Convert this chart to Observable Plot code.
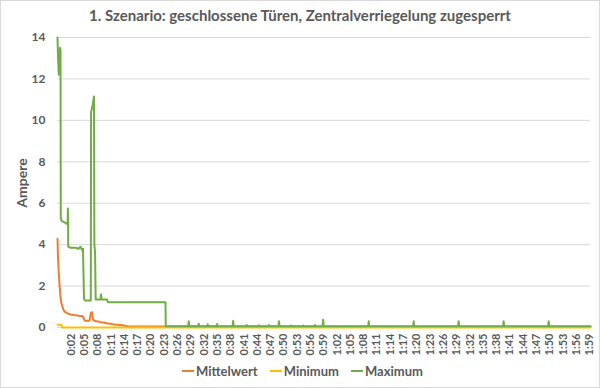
<!DOCTYPE html>
<html>
<head>
<meta charset="utf-8">
<script src="https://cdn.jsdelivr.net/npm/d3@7"></script>
<script src="https://cdn.jsdelivr.net/npm/@observablehq/plot@0.6"></script>
<style>
  html, body { margin: 0; padding: 0; background: #fff; }
  #wrap { position: relative; width: 600px; height: 388px; overflow: hidden; font-family: Lato, "Open Sans", sans-serif; color: #595959; }
  #frame { position: absolute; left: 0; top: 0; width: 598px; height: 386px; border: 1px solid #d9d9d9; pointer-events: none; }
  #title { position: absolute; left: 0; top: 6px; width: 600px; text-align: center; font-size: 15px; font-weight: bold; color: #595959; }
  #chart { position: absolute; left: 0; top: 0; }
  #ylabel { position: absolute; left: 21px; top: 183px; transform: translate(-50%, -50%) rotate(-90deg); font-size: 14px; font-weight: bold; color: #595959; white-space: nowrap; }
  #legend { position: absolute; left: 182px; top: 363px; display: flex; align-items: center; font-size: 13px; font-weight: bold; color: #595959; }
  .item { display: flex; align-items: center; margin-right: 12px; }
  .sw { width: 12px; height: 2px; margin-right: 2px; }
</style>
</head>
<body>
<div id="wrap">
  <div id="chart"></div>
  <div id="title"></div>
  <div id="ylabel"></div>
  <div id="legend"></div>
  <div id="frame"></div>
</div>
<script>
const titleText = "1. Szenario: geschlossene Türen, Zentralverriegelung zugesperrt";
const yTitle = "Ampere";
const seriesNames = ["Mittelwert", "Minimum", "Maximum"];
const seriesColors = ["#ED7D31", "#FFC000", "#70AD47"];
const yTicks = [0, 2, 4, 6, 8, 10, 12, 14];
const xTickLabels = ["0:02","0:05","0:08","0:11","0:14","0:17","0:20","0:23","0:26","0:29","0:32","0:35","0:38","0:41","0:44","0:47","0:50","0:53","0:56","0:59","1:02","1:05","1:08","1:11","1:14","1:17","1:20","1:23","1:26","1:29","1:32","1:35","1:38","1:41","1:44","1:47","1:50","1:53","1:56","1:59"];

// [seconds, ampere]
const mittelwert = [[-1.09,4.28],[-0.98,3.4],[-0.87,2.9],[-0.75,2.45],[-0.64,2.1],[-0.53,1.8],[-0.41,1.45],[-0.19,1.15],[0.04,1.0],[0.26,0.85],[0.6,0.75],[1.17,0.68],[1.84,0.63],[2.52,0.6],[3.42,0.58],[4.1,0.55],[4.55,0.55],[4.78,0.48],[5.0,0.35],[5.23,0.32],[6.13,0.33],[6.31,0.55],[6.47,0.72],[6.7,0.74],[6.87,0.45],[7.03,0.35],[7.71,0.3],[8.39,0.28],[8.61,0.25],[9.51,0.24],[9.97,0.2],[10.87,0.18],[11.55,0.15],[12.67,0.13],[13.58,0.11],[14.7,0.06],[23.3,0.05],[119.2,0.04]];
const minimum = [[-1.09,0.13],[-0.26,0.13],[0.04,0.0],[119.2,0.0]];
const maximum = [[-1.09,14.0],[-0.98,13.1],[-0.8,12.2],[-0.69,12.3],[-0.53,13.5],[-0.41,13.4],[-0.35,5.3],[-0.19,5.15],[0.26,5.1],[0.71,5.05],[1.05,5.0],[1.2,5.05],[1.26,5.75],[1.33,3.9],[1.84,3.85],[2.97,3.85],[3.65,3.8],[4.1,3.9],[4.44,3.75],[4.66,3.8],[4.89,1.4],[5.11,1.3],[6.42,1.3],[6.49,10.4],[6.81,10.7],[7.14,11.15],[7.23,4.0],[7.39,3.6],[7.53,1.35],[8.61,1.35],[8.72,1.6],[8.88,1.35],[10.08,1.35],[10.3,1.22],[23.28,1.22],[23.34,0.06],
  [28.4,0.06],[28.53,0.3],[28.66,0.06],[30.66,0.06],[30.79,0.18],[30.92,0.06],[32.7,0.06],[32.82,0.15],[32.95,0.06],[34.8,0.06],[34.94,0.17],[35.07,0.06],[38.42,0.06],[38.55,0.32],[38.68,0.06],[41.5,0.06],[41.6,0.12],[41.7,0.06],[44.2,0.06],[44.3,0.11],[44.4,0.06],[46.5,0.06],[46.6,0.12],[46.7,0.06],[48.77,0.06],[48.9,0.3],[49.03,0.06],[51.5,0.06],[51.6,0.1],[51.7,0.06],[54.3,0.06],[54.4,0.1],[54.5,0.06],[56.9,0.06],[57.0,0.12],[57.1,0.06],[58.73,0.06],[58.86,0.38],[58.99,0.06],[69.02,0.06],[69.15,0.3],[69.28,0.06],[79.17,0.06],[79.3,0.3],[79.43,0.06],[89.32,0.06],[89.45,0.3],[89.58,0.06],[99.47,0.06],[99.6,0.3],[99.73,0.06],[109.63,0.06],[109.76,0.3],[109.89,0.06],[119.2,0.06]];

const toSec = s => { const [m, ss] = s.split(":"); return (+m) * 60 + (+ss); };
const xTicks = xTickLabels.map(toSec);
const labelOf = new Map(xTicks.map((t, i) => [t, xTickLabels[i]]));

const seriesData = [mittelwert, minimum, maximum];
const rows = seriesData.flatMap((arr, i) => arr.map(([t, v]) => ({series: seriesNames[i], t, v})));

const chart = Plot.plot({
  width: 600,
  height: 362,
  marginLeft: 57,
  marginRight: 10,
  marginTop: 37,
  marginBottom: 35,
  style: {fontFamily: "Lato, 'Open Sans', sans-serif", fontWeight: "bold", color: "#595959", background: "transparent", overflow: "visible"},
  x: {domain: [-1.09, 119.2], label: null},
  y: {domain: [0, 14], label: null},
  color: {domain: seriesNames, range: seriesColors},
  marks: [
    Plot.ruleY(yTicks, {stroke: "#d9d9d9", strokeWidth: 1}),
    Plot.lineY(rows, {x: "t", y: "v", z: "series", stroke: "series", strokeWidth: 2, curve: "linear"}),
    Plot.axisX({ticks: xTicks, tickFormat: d => labelOf.get(d), tickRotate: -90, tickSize: 0, tickPadding: 6, fontSize: 11, fill: "#595959", label: null}),
    Plot.axisY({ticks: yTicks, tickSize: 0, tickPadding: 12, fontSize: 12, fill: "#595959", label: null})
  ]
});
document.getElementById("chart").appendChild(chart);
document.getElementById("title").textContent = titleText;
document.getElementById("ylabel").textContent = yTitle;
const leg = document.getElementById("legend");
seriesNames.forEach((n, i) => {
  const it = document.createElement("div"); it.className = "item";
  const sw = document.createElement("div"); sw.className = "sw"; sw.style.background = seriesColors[i];
  const tx = document.createElement("span"); tx.textContent = n;
  it.appendChild(sw); it.appendChild(tx); leg.appendChild(it);
});
</script>
</body>
</html>
